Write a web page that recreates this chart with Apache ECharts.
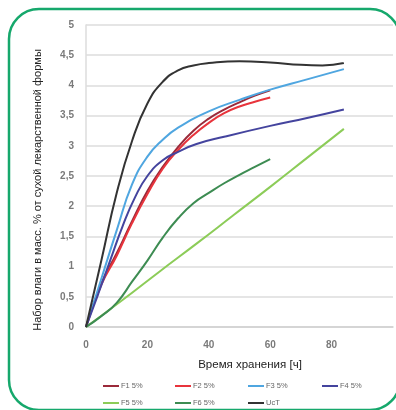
<!DOCTYPE html>
<html>
<head>
<meta charset="utf-8">
<script src="https://cdn.jsdelivr.net/npm/echarts@6/dist/echarts.min.js"></script>
<style>
html,body{margin:0;padding:0;background:#fff;}
#chart{width:396px;height:410px;}
</style>
</head>
<body>
<div id="chart"></div>
<script>
const seriesNames = ["F1 5%", "F2 5%", "F3 5%", "F4 5%", "F5 5%", "F6 5%", "UcT"];
const seriesColors = ["#9b2a3a", "#e8343c", "#4fa6e0", "#44449e", "#8ccc58", "#3d8c52", "#333333"];

const xF1 = [0, 5, 10, 15, 20, 25, 30, 35, 40, 45, 50, 55, 60];
const yF1 = [0, 0.72, 1.22, 1.75, 2.25, 2.65, 2.98, 3.25, 3.45, 3.6, 3.72, 3.83, 3.92];
const xF2 = [0, 5, 10, 15, 20, 25, 30, 35, 40, 45, 50, 55, 60];
const yF2 = [0, 0.7, 1.18, 1.72, 2.2, 2.62, 2.93, 3.18, 3.38, 3.54, 3.65, 3.73, 3.8];
const xF3 = [0, 5, 10, 15, 20, 25, 30, 40, 50, 60, 72, 84];
const yF3 = [0, 0.8, 1.6, 2.36, 2.82, 3.1, 3.3, 3.57, 3.76, 3.93, 4.1, 4.27];
const xF4 = [0, 4, 8, 12, 16, 20, 25, 30, 36, 45, 60, 72, 84];
const yF4 = [0, 0.55, 1.12, 1.68, 2.15, 2.5, 2.76, 2.9, 3.03, 3.15, 3.33, 3.46, 3.6];
const xF5 = [0, 12, 24, 36, 48, 60, 72, 84];
const yF5 = [0, 0.45, 0.92, 1.38, 1.85, 2.32, 2.8, 3.28];
const xF6 = [0, 5, 10, 15, 20, 25, 30, 35, 40, 45, 50, 55, 60];
const yF6 = [0, 0.18, 0.4, 0.75, 1.1, 1.48, 1.8, 2.05, 2.22, 2.38, 2.52, 2.65, 2.78];
const xUcT = [0, 5, 10, 15, 20, 25, 30, 35, 40, 50, 60, 70, 77, 84];
const yUcT = [0, 1.1, 2.22, 3.08, 3.7, 4.06, 4.25, 4.33, 4.37, 4.4, 4.38, 4.34, 4.33, 4.37];

const xTicks = [0, 20, 40, 60, 80];
const yTitle = "Набор влаги в масс. % от сухой лекарственной формы";
const xTitle = "Время хранения [ч]";

const xs = [xF1, xF2, xF3, xF4, xF5, xF6, xUcT];
const ys = [yF1, yF2, yF3, yF4, yF5, yF6, yUcT];

const chart = echarts.init(document.getElementById('chart'), null, {renderer: 'canvas'});

const legendLeft = [103, 175, 248, 322, 103, 175, 248];
const legendTop = [382, 382, 382, 382, 399, 399, 399];

const option = {
  backgroundColor: '#ffffff',
  animation: false,
  grid: {left: 86, top: 25, width: 341, height: 302, containLabel: false},
  xAxis: {
    type: 'value', min: 0, max: 100, interval: 20,
    axisLine: {show: true, lineStyle: {color: '#d0d0d0', width: 1.5}},
    axisTick: {show: false},
    splitLine: {show: false},
    axisLabel: {color: '#7a7a7a', fontSize: 10, fontWeight: 'bold', fontFamily: 'Liberation Sans, Arial', margin: 13,
      formatter: v => xTicks.indexOf(v) >= 0 ? String(v) : ''}
  },
  yAxis: {
    type: 'value', min: 0, max: 5, interval: 0.5,
    axisLine: {show: true, lineStyle: {color: '#dcdcdc', width: 1.5}},
    axisTick: {show: false},
    splitLine: {show: true, lineStyle: {color: '#dcdcdc', width: 1.5}},
    axisLabel: {color: '#7a7a7a', fontSize: 10, fontWeight: 'bold', fontFamily: 'Liberation Sans, Arial', margin: 12,
      formatter: v => String(v).replace('.', ',')}
  },
  legend: seriesNames.map((n, i) => ({
    data: [n], left: legendLeft[i], top: legendTop[i], padding: 0,
    itemWidth: 16, itemHeight: 2, icon: 'rect', itemGap: 2,
    textStyle: {fontSize: 7.5, color: '#666', padding: [0, 0, 0, -3], fontFamily: 'Liberation Sans, Arial'}
  })),
  series: seriesNames.map((n, i) => ({
    name: n, type: 'line', smooth: 0.5, showSymbol: false, symbol: 'none',
    data: xs[i].map((x, j) => [x, ys[i][j]]),
    lineStyle: {color: seriesColors[i], width: 2},
    itemStyle: {color: seriesColors[i]},
    z: i === 6 ? 3 : 2
  })),
  graphic: [
    {type: 'rect', shape: {x: 9, y: 9, width: 391, height: 401, r: 30},
     style: {fill: 'none', stroke: '#16a86c', lineWidth: 2.5}, z: 10},
    {type: 'text', x: 38, y: 190, rotation: Math.PI / 2,
     style: {text: yTitle, align: 'center', verticalAlign: 'middle', fill: '#222', font: '11px "Liberation Sans", Arial'}},
    {type: 'text', x: 250, y: 365,
     style: {text: xTitle, align: 'center', verticalAlign: 'middle', fill: '#222', font: '11.5px "Liberation Sans", Arial'}}
  ]
};
chart.setOption(option);
</script>
</body>
</html>
